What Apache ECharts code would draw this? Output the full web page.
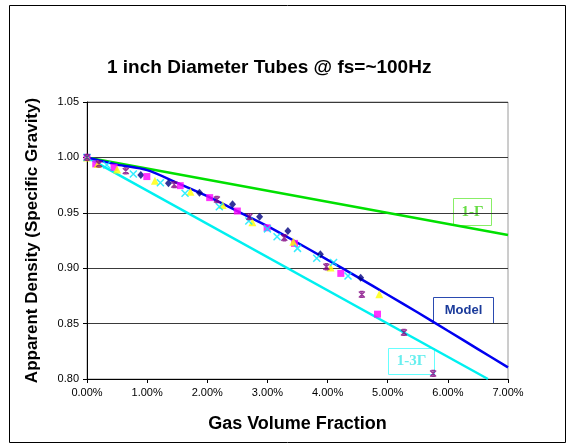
<!DOCTYPE html>
<html>
<head>
<meta charset="utf-8">
<script src="https://cdn.jsdelivr.net/npm/echarts@6/dist/echarts.min.js"></script>
<style>
html,body{margin:0;padding:0;background:#fff;}
#c{width:569px;height:444px;}
</style>
</head>
<body>
<div id="c"></div>
<script>
// Gas volume fraction in percent, apparent density (specific gravity)
var xTicks = [0, 1, 2, 3, 4, 5, 6, 7];
var yTicks = [0.80, 0.85, 0.90, 0.95, 1.00, 1.05];

var navyDiamonds = [[0,1.000],[0.895,0.9842],[1.355,0.9767],[1.87,0.968],[2.42,0.9577],[2.87,0.9465],[3.34,0.9335],[3.88,0.9125],[4.55,0.8913]];
var magentaSquares = [[0,1.000],[0.145,0.9941],[0.45,0.991],[0.995,0.9827],[1.55,0.9745],[2.04,0.9637],[2.5,0.9516],[2.995,0.9365],[3.45,0.9224],[4.22,0.8953],[4.83,0.8585]];
var yellowTriangles = [[0,1.000],[0.18,0.994],[0.5,0.989],[1.13,0.979],[1.72,0.969],[2.255,0.957],[2.75,0.9414],[3.43,0.9239],[4.05,0.9007],[4.86,0.8766]];
var cyanCrosses = [[0,1.000],[0.33,0.9932],[0.77,0.985],[1.22,0.9772],[1.63,0.9676],[2.2,0.9555],[2.69,0.9426],[3.0,0.9355],[3.16,0.9284],[3.5,0.9179],[3.82,0.9089],[4.1,0.9052],[4.34,0.8929]];
var purpleStars = [[0,1.000],[0.2,0.994],[0.645,0.9878],[1.45,0.9754],[2.16,0.962],[2.7,0.9465],[3.28,0.9275],[3.98,0.9013],[4.57,0.8763],[5.27,0.842],[5.755,0.805]];

var modelX = [0, 0.5, 1.0, 1.5, 2.0, 2.5, 3.0, 3.5, 4.0, 4.5, 5.0, 5.5, 6.0, 6.5, 7.0];
var modelY = [1.000, 0.9935, 0.9885, 0.977, 0.965, 0.9515, 0.938, 0.923, 0.9075, 0.892, 0.876, 0.860, 0.8435, 0.827, 0.8105];
var oneMinusG = [[0, 1.000], [7, 0.930]];
var oneMinus3G = [[0, 1.000], [6.667, 0.800]];

var chart = echarts.init(document.getElementById('c'), null, {renderer: 'canvas'});

function zip(xs, ys) { return xs.map(function (x, i) { return [x, ys[i]]; }); }

var crossPath = 'path://M0,0L10,10M10,0L0,10';
var starPath = 'path://M0,0L10,10M10,0L0,10M5,0L5,10M2,0L8,0M2,10L8,10';

var option = {
  animation: false,
  backgroundColor: '#fff',
  title: {
    text: '1 inch Diameter Tubes @ fs=~100Hz',
    left: 102, top: 53,
    textStyle: {fontFamily: 'Liberation Sans, Arial', fontWeight: 'bold', fontSize: 19, color: '#000'}
  },
  grid: {left: 87, right: 61, top: 102, bottom: 65, show: true, borderColor: '#9a9a9a', borderWidth: 1},
  xAxis: {
    type: 'value', min: xTicks[0], max: xTicks[xTicks.length - 1], interval: 1,
    name: 'Gas Volume Fraction', nameLocation: 'middle', nameGap: 36,
    nameTextStyle: {fontFamily: 'Liberation Sans, Arial', fontWeight: 'bold', fontSize: 18, color: '#000'},
    axisLine: {show: true, lineStyle: {color: '#000', width: 1}},
    axisTick: {show: true, inside: false, length: 4, lineStyle: {color: '#000'}},
    axisLabel: {fontFamily: 'Liberation Sans, Arial', fontSize: 11, color: '#000', margin: 8,
      formatter: function (v) { return v.toFixed(2) + '%'; }},
    splitLine: {show: false}
  },
  yAxis: {
    type: 'value', min: yTicks[0], max: yTicks[yTicks.length - 1], interval: 0.05,
    name: 'Apparent Density (Specific Gravity)', nameLocation: 'middle', nameGap: 46, nameRotate: 90,
    nameTextStyle: {fontFamily: 'Liberation Sans, Arial', fontWeight: 'bold', fontSize: 17, color: '#000'},
    axisLine: {show: true, lineStyle: {color: '#000', width: 1}},
    axisTick: {show: true, inside: false, length: 4, lineStyle: {color: '#000'}},
    axisLabel: {fontFamily: 'Liberation Sans, Arial', fontSize: 11, color: '#000', margin: 8,
      formatter: function (v) { return v.toFixed(2); }},
    splitLine: {show: true, lineStyle: {color: '#3a3a3a', width: 1}}
  },
  series: [
    {type: 'line', data: oneMinusG, symbol: 'none', lineStyle: {color: '#00e000', width: 2.5}, z: 2},
    {type: 'line', data: oneMinus3G, symbol: 'none', lineStyle: {color: '#00f0f0', width: 2.5}, z: 2},
    {type: 'line', data: zip(modelX, modelY), symbol: 'none', smooth: 0.3, lineStyle: {color: '#0000f0', width: 2.5}, z: 3},
    {type: 'scatter', data: navyDiamonds, symbol: 'diamond', symbolSize: [7, 8], itemStyle: {color: '#000080'}, z: 4},
    {type: 'scatter', data: magentaSquares, symbol: 'rect', symbolSize: 7, itemStyle: {color: '#ff00ff'}, z: 4},
    {type: 'scatter', data: yellowTriangles, symbol: 'triangle', symbolSize: 8, itemStyle: {color: '#ffff00'}, z: 4},
    {type: 'scatter', data: cyanCrosses, symbol: crossPath, symbolSize: 7, itemStyle: {color: 'transparent', borderColor: '#00e8ff', borderWidth: 1.5}, z: 4},
    {type: 'scatter', data: purpleStars, symbol: starPath, symbolSize: 6, itemStyle: {color: 'transparent', borderColor: '#800080', borderWidth: 1.3}, z: 4}
  ],
  graphic: [
    {type: 'rect', left: 7, top: 3, shape: {width: 556, height: 437}, style: {fill: 'none', stroke: '#000', lineWidth: 1}, z: 0, silent: true},
    {type: 'group', left: 453, top: 198, children: [
      {type: 'rect', shape: {width: 38, height: 27}, style: {fill: '#fff', stroke: '#88ee66', lineWidth: 1}},
      {type: 'text', x: 19, y: 14, style: {text: '1-Γ', fontFamily: 'Liberation Serif, Times New Roman', fontWeight: 'bold', fontSize: 15, fill: '#66dd44', textAlign: 'center', textVerticalAlign: 'middle'}}
    ], z: 10},
    {type: 'group', left: 433, top: 297, children: [
      {type: 'rect', shape: {width: 60, height: 26}, style: {fill: '#fff', stroke: '#2a4ab0', lineWidth: 1}},
      {type: 'text', x: 30, y: 13, style: {text: 'Model', fontFamily: 'Liberation Sans, Arial', fontWeight: 'bold', fontSize: 13, fill: '#1a3a9a', textAlign: 'center', textVerticalAlign: 'middle'}}
    ], z: 10},
    {type: 'group', left: 388, top: 348, children: [
      {type: 'rect', shape: {width: 46, height: 26}, style: {fill: '#fff', stroke: '#66ffff', lineWidth: 1}},
      {type: 'text', x: 23, y: 13, style: {text: '1-3Γ', fontFamily: 'Liberation Serif, Times New Roman', fontWeight: 'bold', fontSize: 15, fill: '#66eeee', textAlign: 'center', textVerticalAlign: 'middle'}}
    ], z: 10}
  ]
};
chart.setOption(option);
</script>
</body>
</html>
